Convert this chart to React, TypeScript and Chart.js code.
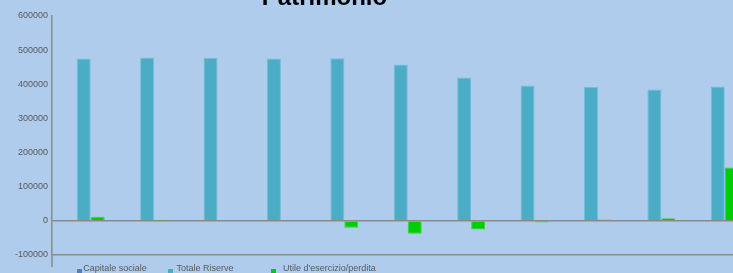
import React, { useEffect, useRef } from "react";
import { Chart, registerables } from "chart.js";

Chart.register(...registerables);

const categories = ["1", "2", "3", "4", "5", "6", "7", "8", "9", "10", "11"];
const capitaleSociale = [0, 0, 0, 0, 0, 0, 0, 0, 0, 0, 0];
const totaleRiserve = [475700, 478600, 478000, 475700, 476600, 458000, 420000, 396800, 391800, 385000, 393800];
const utileEsercizio = [11700, 1000, 0, 0, -20500, -38000, -25000, -5000, 4000, 8000, 156000];
const yMin = -100000;
const yMax = 600000;
const yStep = 100000;
const seriesNames = ["Capitale sociale", "Totale Riserve", "Utile d'esercizio/perdita"];
const seriesColors = ["#4F81BD", "#4BACC6", "#00CC00"];
const seriesBorders = ["#7097c8", "#72bfd4", "#33d633"];

const BG = "rgb(175,204,236)";
const AXIS = "#8a8a8a";
const TEXT = "#595959";
const FONT = "'Liberation Sans', Arial, sans-serif";

const axisExtension = {
  id: "axisExtension",
  afterDraw(chart: any) {
    const { ctx, chartArea } = chart;
    ctx.save();
    ctx.strokeStyle = AXIS;
    ctx.lineWidth = 1.5;
    ctx.beginPath();
    ctx.moveTo(chartArea.left, chartArea.bottom);
    ctx.lineTo(chartArea.left, chartArea.bottom + 12);
    ctx.stroke();
    ctx.restore();
  },
};

export default function App() {
  const ref = useRef<HTMLCanvasElement | null>(null);

  useEffect(() => {
    if (!ref.current) return;
    const data = [capitaleSociale, totaleRiserve, utileEsercizio];
    const chart = new Chart(ref.current, {
      type: "bar",
      data: {
        labels: categories,
        datasets: data.map((d, i) => ({
          label: seriesNames[i],
          data: d,
          backgroundColor: seriesColors[i],
          borderColor: seriesBorders[i],
          borderWidth: 1,
          categoryPercentage: 0.662,
          barPercentage: 1,
        })),
      },
      options: {
        responsive: false,
        animation: false,
        layout: { padding: { left: 0, right: 10.5, top: 16, bottom: 18 } },
        plugins: {
          legend: { display: false },
          title: { display: false },
          tooltip: { enabled: false },
        },
        scales: {
          x: {
            display: false,
            grid: { display: false },
          },
          y: {
            min: yMin,
            max: yMax,
            afterFit: (s: any) => {
              s.width = 52;
            },
            ticks: {
              stepSize: yStep,
              color: TEXT,
              font: { family: FONT, size: 9 },
              padding: 4,
              callback: (v: any) => String(v),
            },
            grid: {
              drawTicks: false,
              lineWidth: 1.5,
              color: (ctx: any) =>
                ctx.tick && (ctx.tick.value === 0 || ctx.tick.value === yMin) ? AXIS : "rgba(0,0,0,0)",
            },
            border: { display: true, color: AXIS, width: 1.5 },
          },
        },
      },
      plugins: [axisExtension],
    });
    return () => chart.destroy();
  }, []);

  const legendItems = [
    { box: 76.7, text: 83.3 },
    { box: 167.7, text: 176.5 },
    { box: 271, text: 283 },
  ];

  return (
    <div
      style={{
        position: "fixed",
        left: 0,
        top: 0,
        width: 733,
        height: 273,
        overflow: "hidden",
        background: BG,
      }}
    >
      <canvas ref={ref} width={760} height={273} style={{ position: "absolute", left: 0, top: 0 }} />
      <div
        style={{
          position: "absolute",
          left: 0,
          top: -15.5,
          width: 649,
          textAlign: "center",
          fontFamily: FONT,
          fontWeight: "bold",
          fontSize: 24,
          lineHeight: "24px",
          color: "#000",
          whiteSpace: "nowrap",
        }}
      >
        Patrimonio
      </div>
      {legendItems.map((it, i) => (
        <React.Fragment key={i}>
          <div
            style={{
              position: "absolute",
              left: it.box,
              top: 269,
              width: 5,
              height: 5,
              background: seriesColors[i],
            }}
          />
          <div
            style={{
              position: "absolute",
              left: it.text,
              top: 263,
              fontFamily: FONT,
              fontSize: 9,
              lineHeight: "11px",
              color: TEXT,
              whiteSpace: "nowrap",
            }}
          >
            {seriesNames[i]}
          </div>
        </React.Fragment>
      ))}
    </div>
  );
}
